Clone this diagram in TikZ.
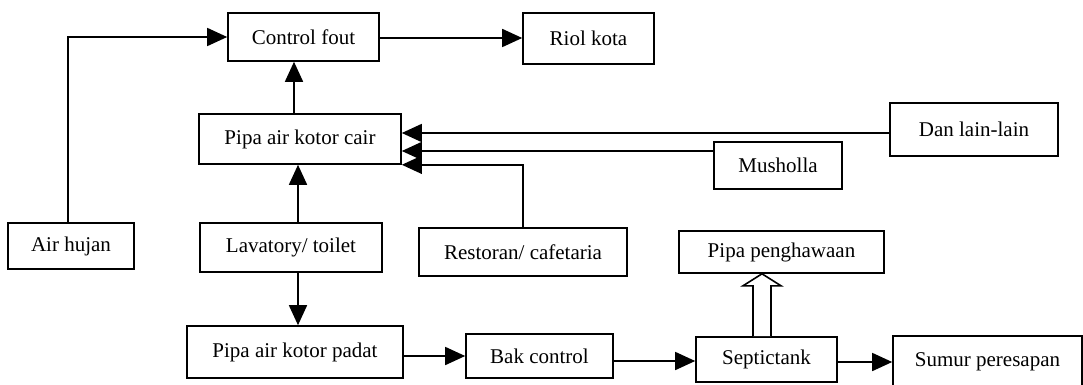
\documentclass[tikz,border=0pt]{standalone}
\usepackage{fontspec}
\setmainfont{Liberation Serif}
\usetikzlibrary{arrows.meta,calc}
\begin{document}
\begin{tikzpicture}[x=1pt,y=-1pt,
  box/.style={draw,line width=1.6pt,inner sep=0pt,font=\fontsize{21}{24}\selectfont},
  arr/.style={line width=1.6pt,-{Triangle[length=20pt,width=18pt]}},
  hollow/.style={draw,line width=1.6pt,fill=white,line join=miter},
]
\clip (0,0) rectangle (1083,385);
\useasboundingbox (0,0) rectangle (1083,385);
% nodes
\node[box,minimum width=151pt,minimum height=48pt] (cf) at (303.5,37) {Control fout};
\node[box,minimum width=131pt,minimum height=51pt] (rk) at (588.5,38.5) {Riol kota};
\node[box,minimum width=202pt,minimum height=50pt] (pc) at (300,139) {Pipa air kotor cair};
\node[box,minimum width=168pt,minimum height=53pt] (dl) at (974,129.5) {Dan lain-lain};
\node[box,minimum width=128pt,minimum height=47pt] (mu) at (778,165.5) {Musholla};
\node[box,minimum width=126pt,minimum height=46pt] (ah) at (71,246) {Air hujan};
\node[box,minimum width=182pt,minimum height=49pt] (lv) at (291,247.5) {Lavatory/ toilet};
\node[box,minimum width=208pt,minimum height=48pt] (rs) at (523,252) {Restoran/ cafetaria};
\node[box,minimum width=205pt,minimum height=42pt] (ph) at (781.5,252) {Pipa penghawaan};
\node[box,minimum width=216pt,minimum height=52pt] (pp) at (295,352) {Pipa air kotor padat};
\node[box,minimum width=147pt,minimum height=44pt] (bk) at (539.5,356) {Bak control};
\node[box,minimum width=141pt,minimum height=45pt] (st) at (766.5,359.5) {Septictank};
\node[box,minimum width=189pt,minimum height=52pt] (sp) at (987.5,362) {Sumur peresapan};
% helper coordinates
\coordinate (x294) at (294,0);
\coordinate (x298) at (298,0);
\coordinate (y38) at (0,38);
\coordinate (y133) at (0,133);
\coordinate (y151) at (0,151);
\coordinate (y356) at (0,356);
\coordinate (y361) at (0,361);
\coordinate (y362) at (0,362);
\coordinate (ha) at (762,0);
% connectors
\draw[arr] (cf.east |- y38) -- (rk.west |- y38);
\draw[arr] ($(ah.north)+(-3,0)$) |- (cf.west);
\draw[arr] (pc.north -| x294) -- (cf.south -| x294);
\draw[arr] (lv.north -| x298) -- (pc.south -| x298);
\draw[arr] (lv.south -| x298) -- (pp.north -| x298);
\draw[arr] (dl.west |- y133) -- (pc.east |- y133);
\draw[arr] (mu.west |- y151) -- (pc.east |- y151);
\draw[arr] (rs.north) |- (pc.south east);
\draw[arr] (pp.east |- y356) -- (bk.west |- y356);
\draw[arr] (bk.east |- y361) -- (st.west |- y361);
\draw[arr] (st.east |- y362) -- (sp.west |- y362);
% hollow arrow septictank -> pipa penghawaan
\draw[hollow] ($(st.north -| ha)+(-9,0)$) -- ($(ph.south -| ha)+(-9,12)$)
  -- ($(ph.south -| ha)+(-19,12)$) -- (ph.south -| ha)
  -- ($(ph.south -| ha)+(19,12)$) -- ($(ph.south -| ha)+(9,12)$)
  -- ($(st.north -| ha)+(9,0)$);
\end{tikzpicture}
\end{document}
